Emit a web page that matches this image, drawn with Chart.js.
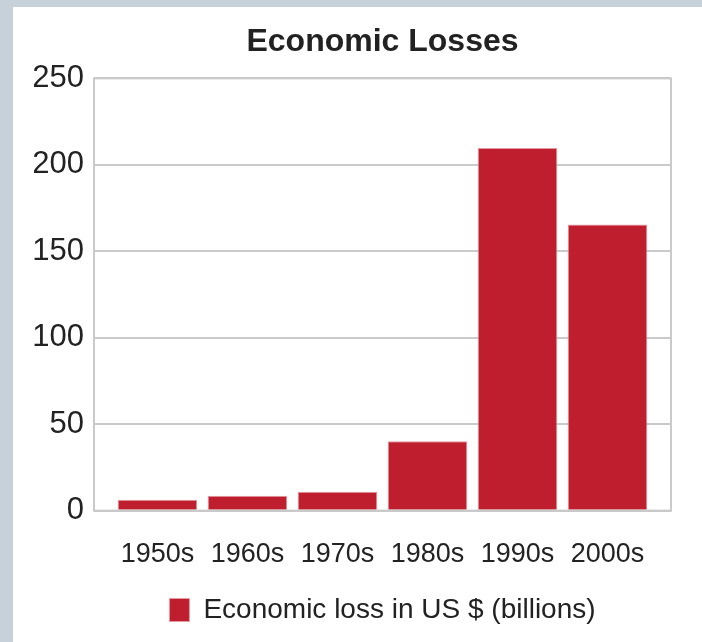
<!DOCTYPE html>
<html>
<head>
<meta charset="utf-8">
<script src="https://cdn.jsdelivr.net/npm/chart.js@4"></script>
<style>
  html, body { margin: 0; padding: 0; background: #c7d1d9; width: 702px; height: 642px; overflow: hidden; }
  #wrap { position: absolute; left: 13px; top: 7px; width: 689px; height: 635px; background: #ffffff; }
</style>
</head>
<body>
<div id="wrap"><canvas id="c"></canvas></div>
<script>
const categories = ["1950s", "1960s", "1970s", "1980s", "1990s", "2000s"];
const losses = [6.3, 8.6, 10.9, 40.2, 209.8, 165.5];
const yTicks = [0, 50, 100, 150, 200, 250];
const seriesLabel = "Economic loss in US $ (billions)";
const chartTitle = "Economic Losses";

const FONT = "'Liberation Sans', Arial, Helvetica, sans-serif";
const TEXT = "#222222";
const GRID = "#cacaca";

const frame = {
  id: 'frame',
  afterDatasetsDraw(chart) {
    const a = chart.chartArea, ctx = chart.ctx;
    ctx.save();
    ctx.strokeStyle = GRID;
    ctx.lineWidth = 2;
    ctx.strokeRect(a.left, a.top, a.right - a.left, a.bottom - a.top);
    ctx.restore();
  }
};

new Chart(document.getElementById('c'), {
  type: 'bar',
  data: {
    datasets: [{
      label: seriesLabel,
      data: losses.map((v, i) => ({ x: i, y: v })),
      backgroundColor: '#be1e2d',
      borderColor: '#e39aa2',
      borderWidth: 1,
      categoryPercentage: 1,
      barPercentage: 0.885
    }]
  },
  options: {
    responsive: true,
    maintainAspectRatio: false,
    animation: false,
    layout: { padding: { left: 21, right: 31, top: 0, bottom: 8 } },
    scales: {
      x: {
        type: 'linear',
        offset: false,
        min: -0.705,
        max: 5.705,
        afterBuildTicks: (scale) => { scale.ticks = categories.map((c, i) => ({ value: i })); },
        afterFit: (scale) => { scale.height = scale.height - 3; },
        grid: { display: false, drawTicks: false, offset: false },
        border: { display: false },
        ticks: {
          autoSkip: false,
          maxRotation: 0,
          padding: 39,
          color: TEXT,
          font: { family: FONT, size: 27, lineHeight: 0.384 },
          callback: (v) => categories[v]
        }
      },
      y: {
        min: 0,
        max: 250,
        afterBuildTicks: (scale) => { scale.ticks = yTicks.map(v => ({ value: v })); },
        afterFit: (scale) => { scale.width = 60; },
        grid: { color: GRID, lineWidth: 2, drawTicks: false },
        border: { display: false },
        ticks: {
          padding: 10,
          color: TEXT,
          font: { family: FONT, size: 31 }
        }
      }
    },
    plugins: {
      title: {
        display: true,
        text: chartTitle,
        fullSize: false,
        color: TEXT,
        font: { family: FONT, size: 32, weight: 'bold' },
        padding: { top: 16, bottom: 17 }
      },
      legend: {
        display: true,
        position: 'bottom',
        fullSize: false,
        labels: {
          color: TEXT,
          font: { family: FONT, size: 28 },
          boxWidth: 20,
          boxHeight: 23,
          padding: 0
        }
      },
      tooltip: { enabled: false }
    }
  },
  plugins: [frame]
});
</script>
</body>
</html>
